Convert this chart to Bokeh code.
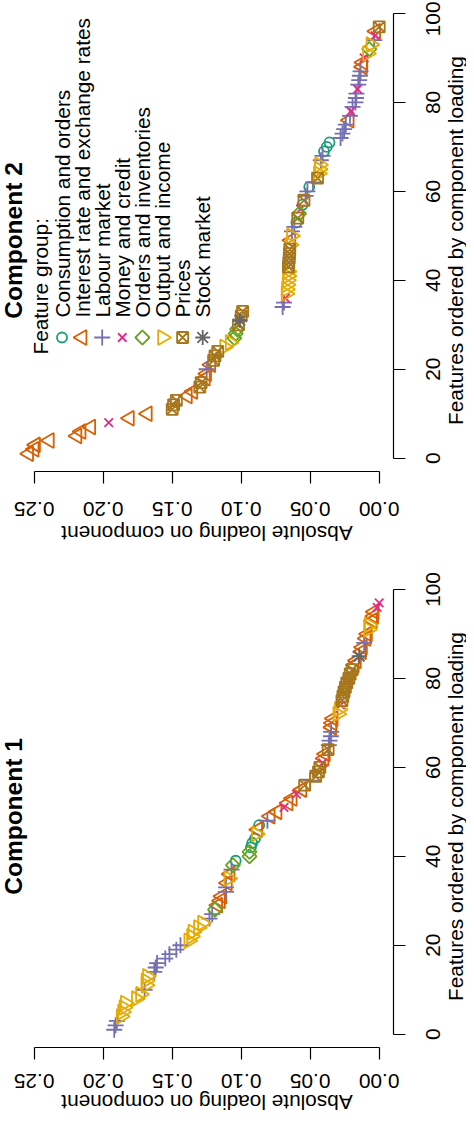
from math import pi
from bokeh.plotting import figure
from bokeh.layouts import column
from bokeh.models import Range1d, Label, FixedTicker, CustomJSTickFormatter
from bokeh.core.properties import value
from bokeh.embed import file_html
from bokeh.resources import INLINE

# ---------------- data ----------------
groups = ["Consumption and orders", "Interest rate and exchange rates", "Labour market",
          "Money and credit", "Orders and inventories", "Output and income", "Prices", "Stock market"]
codes = ["C", "I", "L", "M", "O", "Y", "P", "S"]
colors = ["#1B9E77", "#D95F02", "#7570B3", "#E7298A", "#66A61E", "#E6AB02", "#A6761D", "#666666"]

load_ticks = [0.0, 0.05, 0.10, 0.15, 0.20, 0.25]
load_labels = ["0.00", "0.05", "0.10", "0.15", "0.20", "0.25"]
feat_ticks = [0, 20, 40, 60, 80, 100]
feat_labels = ["0", "20", "40", "60", "80", "100"]
x_title = "Absolute loading on component"
y_title = "Features ordered by component loading"
legend_title = "Feature group:"

# Component 1: absolute loadings (features ordered by loading) and feature group
comp1_load = [0.192, 0.191, 0.190, 0.187, 0.186, 0.185, 0.184, 0.176, 0.173, 0.170,
              0.169, 0.169, 0.168, 0.163, 0.162, 0.161, 0.155, 0.152, 0.147, 0.144,
              0.138, 0.136, 0.135, 0.131, 0.128, 0.123, 0.121, 0.119, 0.117, 0.115,
              0.114, 0.111, 0.111, 0.110, 0.109, 0.108, 0.107, 0.106, 0.104, 0.094,
              0.094, 0.093, 0.092, 0.090, 0.089, 0.088, 0.087, 0.081, 0.079, 0.074,
              0.069, 0.066, 0.063, 0.060, 0.056, 0.054, 0.050, 0.046, 0.044, 0.043,
              0.041, 0.040, 0.039, 0.037, 0.0365, 0.036, 0.035, 0.0348, 0.0343, 0.034,
              0.0333, 0.030, 0.029, 0.028, 0.027, 0.0263, 0.0255, 0.0245, 0.0235, 0.022,
              0.021, 0.0195, 0.018, 0.0165, 0.0145, 0.0128, 0.0121, 0.0109, 0.0095, 0.0085,
              0.0078, 0.0072, 0.0049, 0.0040, 0.0036, 0.0015, 0.000]
comp1_group = list("LLLYYYYYYL" "YYYLLLLLLL" "YYYYYLLOII" "ILLIYILOCO" "OCCCYICLII"
                   "MIIMIPLPPP" "MIIPLLLLII" "IYYMPPPPPP" "PPIISIILII" "YYIIIMM")

# Component 2
comp2_load = [0.254, 0.250, 0.249, 0.239, 0.219, 0.216, 0.209, 0.196, 0.181, 0.168,
              0.150, 0.149, 0.147, 0.139, 0.135, 0.130, 0.129, 0.126, 0.125, 0.125,
              0.122, 0.120, 0.119, 0.117, 0.112, 0.108, 0.105, 0.104, 0.103, 0.102,
              0.101, 0.100, 0.099, 0.070, 0.069, 0.068, 0.0675, 0.0672, 0.0668, 0.0665,
              0.0662, 0.066, 0.0658, 0.0655, 0.0652, 0.065, 0.0648, 0.0645, 0.0640, 0.0636,
              0.0632, 0.0615, 0.0600, 0.0590, 0.0580, 0.0570, 0.0556, 0.0545, 0.0533, 0.0520,
              0.0507, 0.0480, 0.0447, 0.0440, 0.0436, 0.0433, 0.0423, 0.0410, 0.0400, 0.0380,
              0.0360, 0.0280, 0.0266, 0.0254, 0.0242, 0.0217, 0.0212, 0.0206, 0.0193, 0.0172,
              0.0168, 0.0165, 0.0157, 0.0152, 0.0145, 0.0140, 0.0135, 0.0121, 0.0118, 0.0109,
              0.0085, 0.0072, 0.0060, 0.0036, 0.0030, 0.0025, 0.000]
comp2_group = list("IIIIIIIMII" "PPPIIPPIIL" "IPPPYYOOOP" "SPPLLMYYYY" "YYPPPPPYIY"
                   "LLCPOMCPLL" "CLPYYYLLCC" "CLLLLILMLL" "LLMLLLLIIM" "YOYLMIP")

# ---------------- layout constants (pixels, relative to each figure) ----------------
FIG_W = 466
PX_PER_LOAD = 1380.0      # pixels per unit of loading
LOAD0_X = 378.7           # x of loading 0
PX_PER_FEAT = 4.447       # pixels per feature rank
FEAT0_Y = 457.7           # y (from figure top) of feature 0, before panel shift
AXIS_X = 393.0            # x of the feature axis line
AXIS_Y = 471.0            # y of the loading axis line, before panel shift
TICKLAB_X = 432.0

FONT = "Liberation Sans"
FS_PX = 20.8
FS = "%.1fpx" % FS_PX


def px_to_load(px):
    return (LOAD0_X - px) / PX_PER_LOAD


def make_px_to_feat(dy):
    def f(py):
        return (FEAT0_Y + dy - py) / PX_PER_FEAT
    return f


def add_marks(p, xs, ys, color, code):
    kw = dict(x=xs, y=ys, line_color=color, fill_color=None, line_width=1.8)
    if code == "C":
        p.scatter(marker="circle", size=10, **kw)
    elif code == "I":
        p.scatter(marker="triangle", size=15, angle=pi / 2, **kw)
    elif code == "L":
        p.scatter(marker="cross", size=16, **kw)
    elif code == "M":
        p.scatter(marker="x", size=12, **kw)
    elif code == "O":
        p.scatter(marker="square", size=10, angle=pi / 4, **kw)
    elif code == "Y":
        p.scatter(marker="inverted_triangle", size=15, angle=pi / 2, **kw)
    elif code == "P":
        p.scatter(marker="square_x", size=11, **kw)
    elif code == "S":
        p.scatter(marker="asterisk", size=15, **kw)


def text_label(x, y, text, angle, align="center", size=FS, style="normal"):
    return Label(x=x, y=y, text=text, angle=angle, text_align=align, text_baseline="middle",
                 text_font=FONT, text_font_size=size, text_font_style=style,
                 text_color="black")


def make_panel(loads, grp, height, dy, title, ticklab_y, xlab_y):
    to_feat = make_px_to_feat(dy)
    p = figure(width=FIG_W, height=height,
               x_range=Range1d(px_to_load(0), px_to_load(FIG_W)),
               y_range=Range1d(to_feat(height), to_feat(0)),
               x_axis_location="below", y_axis_location="right",
               output_backend="svg", toolbar_location=None,
               min_border_left=0, min_border_top=0,
               min_border_right=0, min_border_bottom=0)
    p.grid.visible = False
    p.outline_line_color = None
    p.background_fill_color = "white"
    p.border_fill_color = "white"

    xa = p.xaxis[0]
    xa.ticker = FixedTicker(ticks=load_ticks)
    xa.bounds = (0, 0.25)
    xa.fixed_location = to_feat(AXIS_Y + dy)

    ya = p.yaxis[0]
    ya.ticker = FixedTicker(ticks=feat_ticks)
    ya.bounds = (0, 100)
    ya.fixed_location = px_to_load(AXIS_X)

    for ax in (xa, ya):
        ax.formatter = CustomJSTickFormatter(code="return ''")
        ax.axis_line_color = "black"
        ax.axis_line_width = 1.2
        ax.major_tick_line_color = "black"
        ax.major_tick_line_width = 1.2
        ax.major_tick_out = 12
        ax.major_tick_in = 0
        ax.minor_tick_line_color = None
        ax.major_label_text_font_size = "1px"

    # tick labels, rotated with the rest of the page
    p.text(x=load_ticks, y=[to_feat(ticklab_y)] * len(load_ticks), text=load_labels,
           angle=pi, text_align="center", text_baseline="middle",
           text_font=value(FONT), text_font_size=value(FS), text_color="black")
    # keep each feature tick label inside the figure (centred on its tick where possible)
    label_y = []
    for t, s in zip(feat_ticks, feat_labels):
        half = 0.556 * FS_PX * len(s) / 2.0 + 1.0
        top_px = FEAT0_Y + dy - t * PX_PER_FEAT
        label_y.append(to_feat(max(top_px, half)))
    p.text(x=[px_to_load(TICKLAB_X)] * len(feat_ticks), y=label_y, text=feat_labels,
           angle=pi / 2, text_align="center", text_baseline="middle",
           text_font=value(FONT), text_font_size=value(FS), text_color="black")

    feats = list(range(1, len(loads) + 1))
    for code, color in zip(codes, colors):
        xs = [l for l, g in zip(loads, grp) if g == code]
        ys = [f for f, g in zip(feats, grp) if g == code]
        if xs:
            add_marks(p, xs, ys, color, code)

    # panel title and axis titles
    p.add_layout(text_label(px_to_load(12.5), to_feat(240.0 + dy), title, pi / 2,
                            size="24.5px", style="bold"))
    p.add_layout(text_label(px_to_load(206.5), to_feat(xlab_y), x_title, pi))
    p.add_layout(text_label(px_to_load(455.0), to_feat(240.0 + dy), y_title, pi / 2))
    return p, to_feat


p2, feat2 = make_panel(comp2_load, comp2_group, 570, 0, "Component 2", 508.7, 532.5)
p1, feat1 = make_panel(comp1_load, comp1_group, 544, 6, "Component 1", 510.0, 531.5)

# legend (rotated) in component 2 panel
p2.add_layout(text_label(px_to_load(40.0), feat2(354.0), legend_title, pi / 2, align="left"))
for i, (g, code, color) in enumerate(zip(groups, codes, colors)):
    xp = 61.5 + 20.1 * i
    add_marks(p2, [px_to_load(xp)], [feat2(337.0)], color, code)
    p2.add_layout(text_label(px_to_load(xp), feat2(317.0), g, pi / 2, align="left"))

layout = column(p2, p1, spacing=0)
open("out.html", "w").write(file_html(layout, INLINE))
